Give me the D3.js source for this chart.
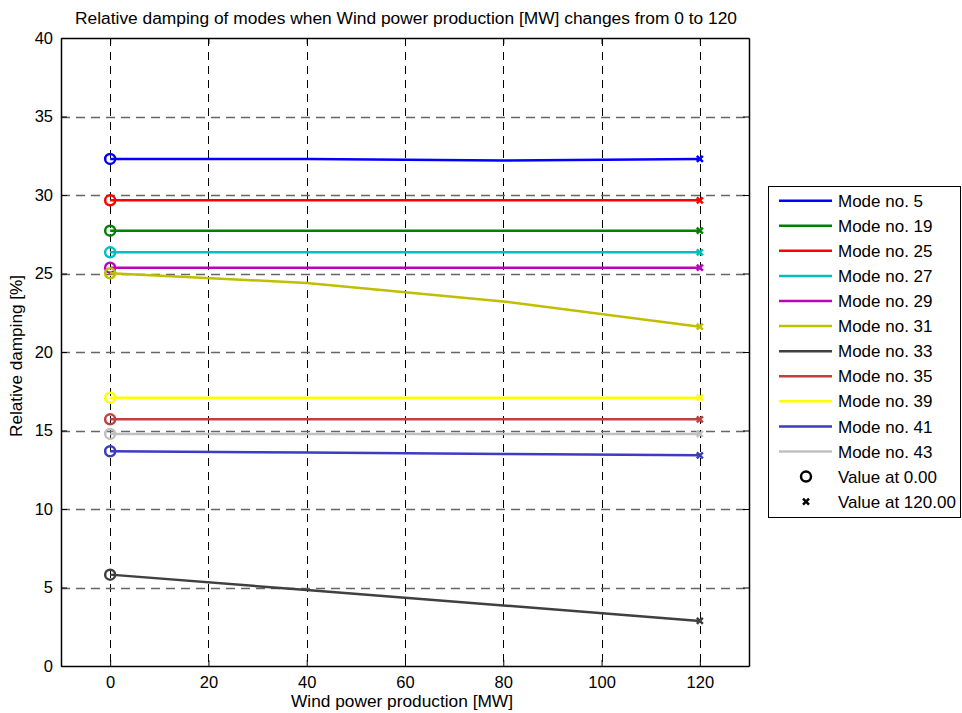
<!DOCTYPE html>
<html>
<head>
<meta charset="utf-8">
<script src="https://cdn.jsdelivr.net/npm/d3@7"></script>
<style>
  body { margin: 0; background: #fff; }
  svg { display: block; font-family: "Liberation Sans", Arial, sans-serif; }
</style>
</head>
<body>
<svg id="chart" width="962" height="713"></svg>
<script>
// Wind power production levels (MW) where damping was evaluated
const windLevels = [0, 40, 80, 120];

// Mode labels and line colours
const modeNames = ["Mode no. 5", "Mode no. 19", "Mode no. 25", "Mode no. 27", "Mode no. 29",
  "Mode no. 31", "Mode no. 33", "Mode no. 35", "Mode no. 39", "Mode no. 41", "Mode no. 43"];
const modeColors = ["#0000ff", "#008000", "#ff0000", "#00bfbf", "#bf00bf",
  "#bfbf00", "#404040", "#c04040", "#ffff00", "#3b3bc4", "#c0c0c0"];

// Relative damping [%] per mode at each wind level
const mode5  = [32.30, 32.30, 32.20, 32.30];
const mode19 = [27.73, 27.73, 27.73, 27.73];
const mode25 = [29.66, 29.66, 29.66, 29.66];
const mode27 = [26.35, 26.35, 26.35, 26.35];
const mode29 = [25.37, 25.37, 25.37, 25.37];
const mode31 = [25.01, 24.40, 23.22, 21.61];
const mode33 = [5.82, 4.84, 3.86, 2.87];
const mode35 = [15.71, 15.71, 15.71, 15.71];
const mode39 = [17.09, 17.09, 17.09, 17.09];
const mode41 = [13.68, 13.60, 13.50, 13.42];
const mode43 = [14.78, 14.78, 14.78, 14.78];
const modeValues = [mode5, mode19, mode25, mode27, mode29, mode31, mode33, mode35, mode39, mode41, mode43];

const xTicks = [0, 20, 40, 60, 80, 100, 120];
const yTicks = [0, 5, 10, 15, 20, 25, 30, 35, 40];

const svg = d3.select("#chart");
const L = 61, R = 749, T = 38, B = 666;

const x = d3.scaleLinear().domain([-10, 130]).range([L, R]);
const y = d3.scaleLinear().domain([0, 40]).range([B, T]);

// Grid lines
const grid = svg.append("g");
grid.selectAll("line.gx").data(xTicks).join("line")
  .attr("x1", d => Math.round(x(d)) + 0.5).attr("x2", d => Math.round(x(d)) + 0.5)
  .attr("y1", T).attr("y2", B)
  .attr("stroke", "#000").attr("stroke-width", 1).attr("stroke-dasharray", "8,6");
grid.selectAll("line.gy").data(yTicks.slice(1, -1)).join("line")
  .attr("x1", L).attr("x2", R)
  .attr("y1", d => Math.round(y(d)) + 0.5).attr("y2", d => Math.round(y(d)) + 0.5)
  .attr("stroke", "#666").attr("stroke-width", 1.3).attr("stroke-dasharray", "9,6");

// Axes (ticks inward, box all round)
const xAxis = svg.append("g").attr("transform", `translate(0,${B})`)
  .call(d3.axisBottom(x).tickValues(xTicks).tickSizeInner(-6).tickSizeOuter(0).tickPadding(10));
const xAxisTop = svg.append("g").attr("transform", `translate(0,${T})`)
  .call(d3.axisTop(x).tickValues(xTicks).tickSizeInner(-6).tickSizeOuter(0).tickFormat(""));
const yAxis = svg.append("g").attr("transform", `translate(${L},0)`)
  .call(d3.axisLeft(y).tickValues(yTicks).tickSizeInner(-6).tickSizeOuter(0).tickPadding(8));
const yAxisRight = svg.append("g").attr("transform", `translate(${R},0)`)
  .call(d3.axisRight(y).tickValues(yTicks).tickSizeInner(-6).tickSizeOuter(0).tickFormat(""));
[xAxis, xAxisTop, yAxis, yAxisRight].forEach(g => {
  g.select(".domain").attr("stroke", "#000").attr("stroke-width", 1.5);
  g.selectAll(".tick line").attr("stroke", "#000");
  g.selectAll(".tick text").attr("font-size", 16.5).attr("fill", "#000")
    .attr("font-family", "Liberation Sans, Arial, sans-serif");
});

// Series lines and end markers
const line = d3.line().x((d, i) => x(windLevels[i])).y(d => y(d));
const series = svg.append("g");
modeValues.forEach((vals, k) => {
  const c = modeColors[k];
  series.append("path").datum(vals)
    .attr("d", line).attr("fill", "none").attr("stroke", c).attr("stroke-width", 2.5);
  series.append("circle")
    .attr("cx", x(windLevels[0])).attr("cy", y(vals[0])).attr("r", 5)
    .attr("fill", "none").attr("stroke", c).attr("stroke-width", 2.5);
  const ex = x(windLevels[windLevels.length - 1]), ey = y(vals[vals.length - 1]);
  series.append("path")
    .attr("d", `M${ex - 3},${ey - 3}L${ex + 3},${ey + 3}M${ex - 3},${ey + 3}L${ex + 3},${ey - 3}`)
    .attr("stroke", c).attr("stroke-width", 2.5).attr("fill", "none");
});

// Title and axis labels
svg.append("text").attr("x", 406).attr("y", 24).attr("text-anchor", "middle")
  .attr("font-size", 16).attr("textLength", 662).attr("lengthAdjust", "spacingAndGlyphs")
  .text("Relative damping of modes when Wind power production [MW] changes from 0 to 120");
svg.append("text").attr("x", 402).attr("y", 707).attr("text-anchor", "middle")
  .attr("font-size", 17).attr("textLength", 222).attr("lengthAdjust", "spacingAndGlyphs")
  .text("Wind power production [MW]");
svg.append("text").attr("transform", `translate(22,356) rotate(-90)`)
  .attr("text-anchor", "middle").attr("font-size", 17)
  .attr("textLength", 162).attr("lengthAdjust", "spacingAndGlyphs")
  .text("Relative damping [%]");

// Legend
const legend = svg.append("g");
legend.append("rect").attr("x", 768.5).attr("y", 186.5).attr("width", 192).attr("height", 331)
  .attr("fill", "#fff").attr("stroke", "#000").attr("stroke-width", 1);
const rowY = i => 200.7 + i * 25.08;
modeNames.forEach((name, i) => {
  legend.append("line").attr("x1", 779).attr("x2", 832).attr("y1", rowY(i)).attr("y2", rowY(i))
    .attr("stroke", modeColors[i]).attr("stroke-width", 2.5);
  legend.append("text").attr("x", 838).attr("y", rowY(i)).attr("dy", "0.36em")
    .attr("font-size", 17).text(name);
});
const markerLabels = ["Value at " + windLevels[0].toFixed(2), "Value at " + windLevels[windLevels.length - 1].toFixed(2)];
const mi = modeNames.length;
legend.append("circle").attr("cx", 806).attr("cy", rowY(mi)).attr("r", 5)
  .attr("fill", "none").attr("stroke", "#000").attr("stroke-width", 2.5);
const lx = 806, ly = rowY(mi + 1);
legend.append("path")
  .attr("d", `M${lx - 3},${ly - 3}L${lx + 3},${ly + 3}M${lx - 3},${ly + 3}L${lx + 3},${ly - 3}`)
  .attr("stroke", "#000").attr("stroke-width", 2.5);
markerLabels.forEach((t, j) => {
  legend.append("text").attr("x", 838).attr("y", rowY(mi + j)).attr("dy", "0.36em")
    .attr("font-size", 17).text(t);
});
</script>
</body>
</html>
